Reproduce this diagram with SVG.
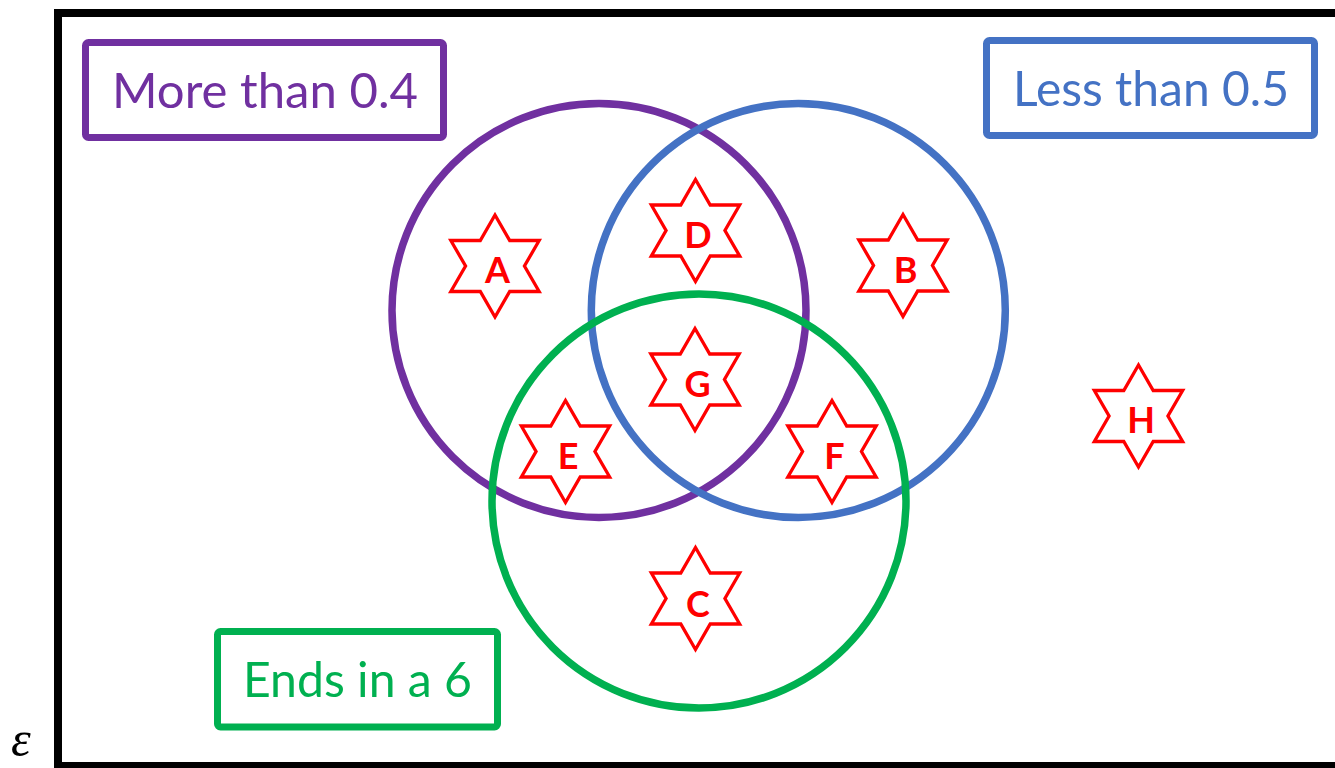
<svg xmlns="http://www.w3.org/2000/svg" width="1335" height="768" viewBox="0 0 1335 768">
  <style>
    .frame { fill: none; stroke: #000000; stroke-width: 8; }
    .set { fill: none; stroke-width: 7.5; }
    .box { fill: #FFFFFF; stroke-width: 7; }
    .label { font-family: Lato, "Open Sans", "Liberation Sans", sans-serif; font-size: 49px; }
    .star { fill: #FFFFFF; stroke: #FF0000; stroke-width: 3.3; stroke-linejoin: miter; }
    .elem { font-family: Lato, "Liberation Sans", sans-serif; font-weight: bold; font-size: 36px; fill: #FF0000; text-anchor: middle; }
    .purple { stroke: #7030A0; }
    .blue { stroke: #4472C4; }
    .green { stroke: #00B050; }
  </style>
  <defs>
    <path id="hexagram" d="M0,-51 L14.72,-25.5 L44.17,-25.5 L29.44,0 L44.17,25.5 L14.72,25.5 L0,51 L-14.72,25.5 L-44.17,25.5 L-29.44,0 L-44.17,-25.5 L-14.72,-25.5 Z"/>
  </defs>
  <rect width="1335" height="768" fill="#FFFFFF"/>

  <g id="universe">
    <rect class="frame" x="58" y="13" width="1300" height="753"/>
    <text x="11" y="756" font-family="'Liberation Serif', serif" font-style="italic" font-size="50" fill="#000000">ε</text>
  </g>

  <g id="connectors"></g>

  <g id="set-more-than-0-4">
    <circle class="set purple" cx="599" cy="310.5" r="207"/>
  </g>
  <g id="set-less-than-0-5">
    <circle class="set blue" cx="798.3" cy="310.5" r="207"/>
  </g>
  <g id="set-ends-in-6">
    <circle class="set green" cx="699" cy="501" r="207"/>
  </g>

  <g id="label-more-than-0-4">
    <rect class="box purple" x="85.5" y="42.5" width="358" height="95" rx="3"/>
    <text class="label" x="112" y="108" fill="#7030A0" textLength="306" lengthAdjust="spacingAndGlyphs">More than 0.4</text>
  </g>
  <g id="label-less-than-0-5">
    <rect class="box blue" x="986.5" y="40.5" width="328" height="95" rx="3"/>
    <text class="label" x="1013" y="106" fill="#4472C4" textLength="276" lengthAdjust="spacingAndGlyphs">Less than 0.5</text>
  </g>
  <g id="label-ends-in-6">
    <rect class="box green" x="217.5" y="631.5" width="280" height="95.5" rx="3"/>
    <text class="label" x="243" y="697" fill="#00B050" textLength="229" lengthAdjust="spacingAndGlyphs">Ends in a 6</text>
  </g>

  <g id="star-A" transform="translate(495,266)">
    <use href="#hexagram" class="star"/>
    <text class="elem" x="2.5" y="17">A</text>
  </g>
  <g id="star-B" transform="translate(903,265.5)">
    <use href="#hexagram" class="star"/>
    <text class="elem" x="2.5" y="17">B</text>
  </g>
  <g id="star-C" transform="translate(695.5,598.5)">
    <use href="#hexagram" class="star"/>
    <text class="elem" x="2.5" y="18">C</text>
  </g>
  <g id="star-D" transform="translate(695.5,230.5)">
    <use href="#hexagram" class="star"/>
    <text class="elem" x="2.5" y="17">D</text>
  </g>
  <g id="star-E" transform="translate(565.5,451.5)">
    <use href="#hexagram" class="star"/>
    <text class="elem" x="2.5" y="17">E</text>
  </g>
  <g id="star-F" transform="translate(832,451.5)">
    <use href="#hexagram" class="star"/>
    <text class="elem" x="2.5" y="17">F</text>
  </g>
  <g id="star-G" transform="translate(695,379.5)">
    <use href="#hexagram" class="star"/>
    <text class="elem" x="2.5" y="17">G</text>
  </g>
  <g id="star-H" transform="translate(1138.5,416)">
    <use href="#hexagram" class="star"/>
    <text class="elem" x="2.5" y="17">H</text>
  </g>
</svg>
